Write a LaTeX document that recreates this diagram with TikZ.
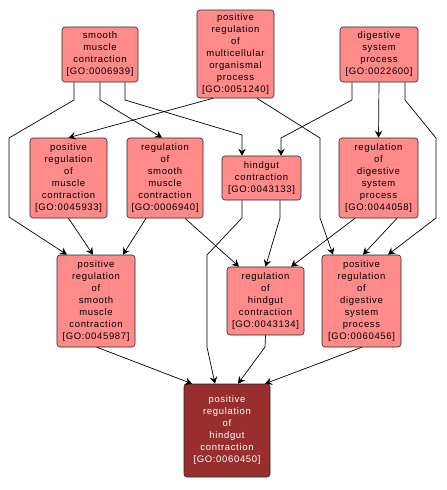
\documentclass[tikz,border=0pt]{standalone}
\usepackage{fontspec}
\newfontfamily\gofont[LetterSpace=7]{Liberation Sans}
\usetikzlibrary{arrows.meta}
\definecolor{gopink}{RGB}{255,138,138}
\definecolor{godark}{RGB}{153,46,46}
\newcommand{\goid}[1]{[GO:#1]}

\begin{document}
\begin{tikzpicture}[
  x=1pt, y=-1pt, >={Stealth[length=7pt,width=7.5pt,inset=2.5pt]},
  term/.style={draw=black!85, fill=gopink, rounded corners=3pt, align=center, inner sep=0pt,
    font=\gofont\fontsize{9.5}{12}\selectfont, line width=0.6pt},
  hit/.style={term, fill=godark, text=white},
  edge/.style={->, line width=0.7pt},
]
  \useasboundingbox (0,0) rectangle (447,490);
  % top row
  \node[term, minimum width=76pt, minimum height=55pt] (smc) at (100,54.5) {smooth\\muscle\\contraction\\\goid{0006939}};
  \node[term, minimum width=77pt, minimum height=88pt] (prmop) at (235.5,54) {positive\\regulation\\of\\multicellular\\organismal\\process\\\goid{0051240}};
  \node[term, minimum width=78pt, minimum height=55pt] (dsp) at (379,54.5) {digestive\\system\\process\\\goid{0022600}};
  % second row
  \node[term, minimum width=77pt, minimum height=80pt] (prmc) at (68.5,178) {positive\\regulation\\of\\muscle\\contraction\\\goid{0045933}};
  \node[term, minimum width=76pt, minimum height=80pt] (rsmc) at (165,178) {regulation\\of\\smooth\\muscle\\contraction\\\goid{0006940}};
  \node[term, minimum width=79pt, minimum height=44pt] (hc) at (261.5,178) {hindgut\\contraction\\\goid{0043133}};
  \node[term, minimum width=79pt, minimum height=80pt] (rdsp) at (378.5,178) {regulation\\of\\digestive\\system\\process\\\goid{0044058}};
  % third row
  \node[term, minimum width=78pt, minimum height=92pt] (prsmc) at (96,301) {positive\\regulation\\of\\smooth\\muscle\\contraction\\\goid{0045987}};
  \node[term, minimum width=77pt, minimum height=68pt] (rhc) at (265.5,301) {regulation\\of\\hindgut\\contraction\\\goid{0043134}};
  \node[term, minimum width=79pt, minimum height=92pt] (prdsp) at (361.5,301) {positive\\regulation\\of\\digestive\\system\\process\\\goid{0060456}};
  % bottom
  \node[hit, minimum width=86pt, minimum height=93pt] (prhc) at (227,430.5) {positive\\regulation\\of\\hindgut\\contraction\\\goid{0060450}};

  \draw[edge] ([xshift=-26pt]smc.south) -- (74,100) -- (9,138) -- (9,217) -- ([xshift=-29pt]prsmc.north);
  \draw[edge] (smc.south) -- (100,100) -- ([xshift=-3pt]rsmc.north);
  \draw[edge] ([xshift=25pt]smc.south) -- (125,100) -- (242,135) -- ([xshift=-19.5pt]hc.north);
  \draw[edge] ([xshift=-22.5pt]prmop.south) -- (prmc.north);
  \draw[edge] ([xshift=21.5pt]prmop.south) -- (320,138) -- (320,218) -- ([xshift=-28.5pt]prdsp.north);
  \draw[edge] ([xshift=-27pt]dsp.south) -- (352,100) -- (281,138) -- ([xshift=19.5pt]hc.north);
  \draw[edge] (dsp.south) -- (rdsp.north);
  \draw[edge] ([xshift=26pt]dsp.south) -- (405,100) -- (436,138) -- (436,218) -- ([xshift=26.5pt]prdsp.north);
  \draw[edge] (prmc.south) -- ([xshift=-3pt]prsmc.north);
  \draw[edge] ([xshift=-19pt]rsmc.south) -- ([xshift=27pt]prsmc.north);
  \draw[edge] ([xshift=20pt]rsmc.south) -- ([xshift=-26.5pt]rhc.north);
  \draw[edge] ([xshift=18.5pt]hc.south) -- (280,218) -- (rhc.north);
  \draw[edge] ([xshift=-19.5pt]hc.south) -- (242,218) -- (207,255) -- (207,347) -- ([xshift=-12pt]prhc.north);
  \draw[edge] ([xshift=-23.5pt]rdsp.south) -- ([xshift=25.5pt]rhc.north);
  \draw[edge] ([xshift=18.5pt]rdsp.south) -- ([xshift=1.5pt]prdsp.north);
  \draw[edge] ([xshift=1pt]prsmc.south) -- ([xshift=-35pt]prhc.north);
  \draw[edge] (rhc.south) -- (265,347) -- ([xshift=11pt]prhc.north);
  \draw[edge] (prdsp.south) -- ([xshift=38pt]prhc.north);
\end{tikzpicture}
\end{document}
